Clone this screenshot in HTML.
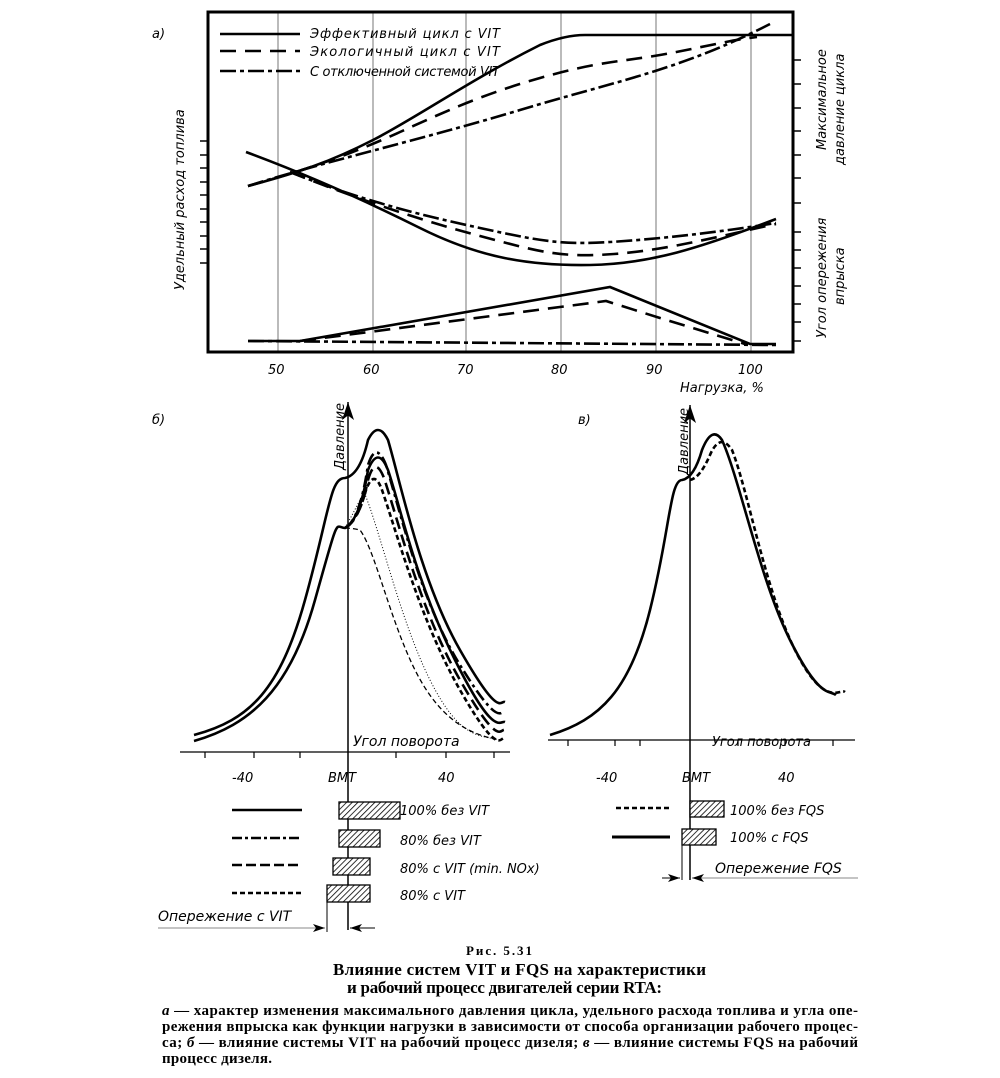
<!DOCTYPE html>
<html><head><meta charset="utf-8"><style>
body{margin:0;background:#fff}
svg{display:block}
.i{font-family:"DejaVu Sans","Liberation Sans",sans-serif;font-style:italic;font-size:13px}
.c{font-family:"Liberation Serif","DejaVu Serif",serif;font-size:15px;font-weight:bold}
</style></head><body>
<svg width="1000" height="1078" viewBox="0 0 1000 1078" xmlns="http://www.w3.org/2000/svg">
<defs>
<pattern id="h" width="4" height="4" patternUnits="userSpaceOnUse" patternTransform="rotate(45)"><rect width="4" height="4" fill="#fff"/><line x1="0" y1="0" x2="0" y2="4" stroke="#000" stroke-width="1.6"/></pattern>
<marker id="ar" markerWidth="12" markerHeight="8" refX="12" refY="4" orient="auto"><path d="M0,0 L12,4 L0,8 L3,4z" fill="#000"/></marker>
</defs>
<g fill="none" stroke="#000">
<text x="152" y="38" class="i" stroke="none" fill="#000" font-size="15">а)</text>
<g stroke="#777" stroke-width="1"><line x1="278" y1="12" x2="278" y2="352"/><line x1="373" y1="12" x2="373" y2="352"/><line x1="466" y1="12" x2="466" y2="352"/><line x1="561" y1="12" x2="561" y2="352"/><line x1="656" y1="12" x2="656" y2="352"/><line x1="751" y1="12" x2="751" y2="352"/></g>
<rect x="208" y="12" width="585" height="340" stroke-width="3"/>
<g stroke-width="1.5">
<path d="M200 141h8M200 155h8M200 168h8M200 182h8M200 195h8M200 209h8M200 222h8M200 236h8M200 249h8M200 263h8"/>
<path d="M793 60h8M793 84h8M793 108h8M793 131h8M793 155h8M793 178h8M793 203h8M793 232h8M793 250h8M793 268h8M793 286h8M793 304h8M793 322h8M793 341h8"/>
</g>
<g stroke-width="2.6">
<path d="M248 186 C300 172 330 162 373 140 S470 80 540 45 Q565 35 585 35 H793"/>
<path d="M248 186 C320 166 360 150 400 132 S480 95 540 78 S620 62 660 55 S730 40 757 37" stroke-dasharray="16 9"/>
<path d="M248 186 C330 160 420 140 520 110 S680 70 770 24" stroke-dasharray="16 4 4 4"/>
<path d="M246 152 C300 172 360 198 420 228 S530 266 590 265 S700 248 776 219"/>
<path d="M290 172 C360 200 420 220 480 236 S560 258 614 254 S720 236 776 224" stroke-dasharray="16 9"/>
<path d="M290 172 C360 200 420 215 480 228 S560 245 610 242 S720 232 776 223" stroke-dasharray="16 4 4 4"/>
<path d="M248 341 H300 L610 287 L750 344 H776"/>
<path d="M300 341 L606 301 L660 318 L745 344" stroke-dasharray="16 9"/>
<path d="M248 341 L776 345" stroke-dasharray="16 4 4 4"/>
<path d="M220 34h80"/><path d="M220 51h80" stroke-dasharray="16 9"/><path d="M220 71h80" stroke-dasharray="16 4 4 4"/>
</g>
<g stroke="none" fill="#000" class="i">
<text x="310" y="38" textLength="190">Эффективный  цикл  с  VIT</text>
<text x="310" y="56" textLength="190">Экологичный  цикл  с  VIT</text>
<text x="310" y="76" textLength="190">С отключенной системой VIT</text>
<text x="268" y="374">50</text><text x="363" y="374">60</text><text x="457" y="374">70</text><text x="551" y="374">80</text><text x="646" y="374">90</text><text x="738" y="374">100</text>
<text x="680" y="392">Нагрузка, %</text>
<text transform="translate(184 290) rotate(-90)">Удельный расход топлива</text>
<text transform="translate(826 150) rotate(-90)">Максимальное</text>
<text transform="translate(844 165) rotate(-90)">давление цикла</text>
<text transform="translate(826 338) rotate(-90)">Угол опережения</text>
<text transform="translate(844 305) rotate(-90)">впрыска</text>
</g>
<text x="152" y="424" class="i" stroke="none" fill="#000" font-size="15">б)</text>
<line x1="180" y1="752" x2="510" y2="752" stroke-width="1.3"/>
<line x1="348" y1="930" x2="348" y2="402" stroke-width="1.5" marker-end="url(#ar)"/>
<path d="M205 752v6M254 752v6M300 752v6M396 752v6M446 752v6M494 752v6" stroke-width="1.2"/>
<g stroke-width="2.6">
<path d="M194 735 C250 720 280 690 305 600 S330 478 345 478 Q360 475 368 440 Q378 420 388 440 C400 480 420 580 460 650 S500 700 505 702"/>
<path d="M194 741 C250 725 290 690 315 600 S335 528 345 528 Q360 520 368 470 Q378 445 388 470 C400 505 415 580 455 660 S500 720 505 722"/>
<path d="M345 528 Q360 520 368 465 Q376 440 386 465 C400 510 420 600 460 665 S500 710 505 712" stroke-dasharray="12 4 3 4"/>
<path d="M345 528 Q360 520 368 480 Q375 455 384 478 C398 520 420 610 460 680 S500 728 505 730" stroke-dasharray="12 6"/>
<path d="M345 528 Q358 520 366 490 Q374 468 382 490 C396 530 420 620 460 690 S500 736 505 738" stroke-dasharray="5 3"/>
</g>
<path d="M345 528 Q355 510 364 492 C380 530 400 620 430 680 S480 735 500 740" stroke-width="1" stroke-dasharray="1 2"/>
<path d="M345 528 Q352 528 360 530 C375 550 390 620 415 670 S470 735 500 740" stroke-width="1.3" stroke-dasharray="5 3"/>
<g stroke="none" fill="#000" class="i">
<text transform="translate(344 470) rotate(-90)">Давление</text>
<text x="353" y="746" font-size="14">Угол поворота</text>
<text x="232" y="782">-40</text><text x="328" y="782">ВМТ</text><text x="438" y="782">40</text>
<text x="400" y="815">100% без VIT</text>
<text x="400" y="845">80% без VIT</text>
<text x="400" y="873">80% с VIT (min. NOх)</text>
<text x="400" y="900">80% с VIT</text>
<text x="158" y="921" font-size="14">Опережение с VIT</text>
</g>
<g stroke-width="2.6">
<path d="M232 810h70"/><path d="M232 838h70" stroke-dasharray="10 3 3 3"/><path d="M232 865h70" stroke-dasharray="10 4"/><path d="M232 893h70" stroke-dasharray="5 3"/>
</g>
<g fill="url(#h)" stroke-width="1.3">
<rect x="339" y="802" width="61" height="17"/><rect x="339" y="830" width="41" height="17"/><rect x="333" y="858" width="37" height="17"/><rect x="327" y="885" width="43" height="17"/>
</g>
<line x1="327" y1="902" x2="327" y2="932" stroke-width="1"/>
<line x1="158" y1="928" x2="325" y2="928" stroke-width="1" stroke="#888" marker-end="url(#ar)"/>
<line x1="375" y1="928" x2="350" y2="928" stroke-width="1" marker-end="url(#ar)"/>
<text x="578" y="424" class="i" stroke="none" fill="#000" font-size="15">в)</text>
<line x1="548" y1="740" x2="855" y2="740" stroke-width="1.3"/>
<line x1="690" y1="880" x2="690" y2="405" stroke-width="1.5" marker-end="url(#ar)"/>
<path d="M568 740v6M615 740v6M640 740v6M738 740v6M785 740v6M833 740v6" stroke-width="1.2"/>
<g stroke-width="2.6">
<path d="M550 735 C600 720 630 690 650 610 S670 480 682 480 Q694 478 702 450 Q712 425 722 440 C740 480 760 580 790 640 S830 690 836 695"/>
<path d="M690 480 Q700 478 710 455 Q720 432 732 450 C748 490 765 590 795 650 S840 688 845 692" stroke-dasharray="5 3"/>
</g>
<g stroke="none" fill="#000" class="i">
<text transform="translate(688 475) rotate(-90)">Давление</text>
<text x="712" y="746">Угол поворота</text>
<text x="596" y="782">-40</text><text x="682" y="782">ВМТ</text><text x="778" y="782">40</text>
<text x="730" y="815">100% без FQS</text>
<text x="730" y="842">100% с FQS</text>
<text x="715" y="873" font-size="14">Опережение FQS</text>
</g>
<path d="M616 808h55" stroke-width="2.6" stroke-dasharray="5 3"/>
<path d="M612 837h58" stroke-width="3"/>
<g fill="url(#h)" stroke-width="1.3"><rect x="690" y="801" width="34" height="16"/><rect x="682" y="829" width="34" height="16"/></g>
<line x1="682" y1="845" x2="682" y2="880" stroke-width="1"/>
<line x1="662" y1="878" x2="680" y2="878" stroke-width="1" marker-end="url(#ar)"/>
<line x1="858" y1="878" x2="692" y2="878" stroke-width="1" stroke="#888" marker-end="url(#ar)"/>
</g>
<g class="c" fill="#000">
<text x="466" y="955" font-size="13" textLength="66">Рис. 5.31</text>
<text x="333" y="975" font-size="17" textLength="373">Влияние систем VIT и FQS на характеристики</text>
<text x="347" y="993" font-size="17" textLength="315">и рабочий процесс двигателей серии RTA:</text>
</g>
<g class="c" fill="#000">
<text x="162" y="1015" textLength="696"><tspan font-style="italic">а</tspan> — характер изменения максимального давления цикла, удельного расхода топлива и угла опе-</text>
<text x="162" y="1031" textLength="696">режения впрыска как функции нагрузки в зависимости от способа организации рабочего процес-</text>
<text x="162" y="1047" textLength="696">са; <tspan font-style="italic">б</tspan> — влияние системы VIT на рабочий процесс дизеля; <tspan font-style="italic">в</tspan> — влияние системы FQS на рабочий</text>
<text x="162" y="1063" textLength="110">процесс дизеля.</text>
</g>
</svg>
</body></html>
